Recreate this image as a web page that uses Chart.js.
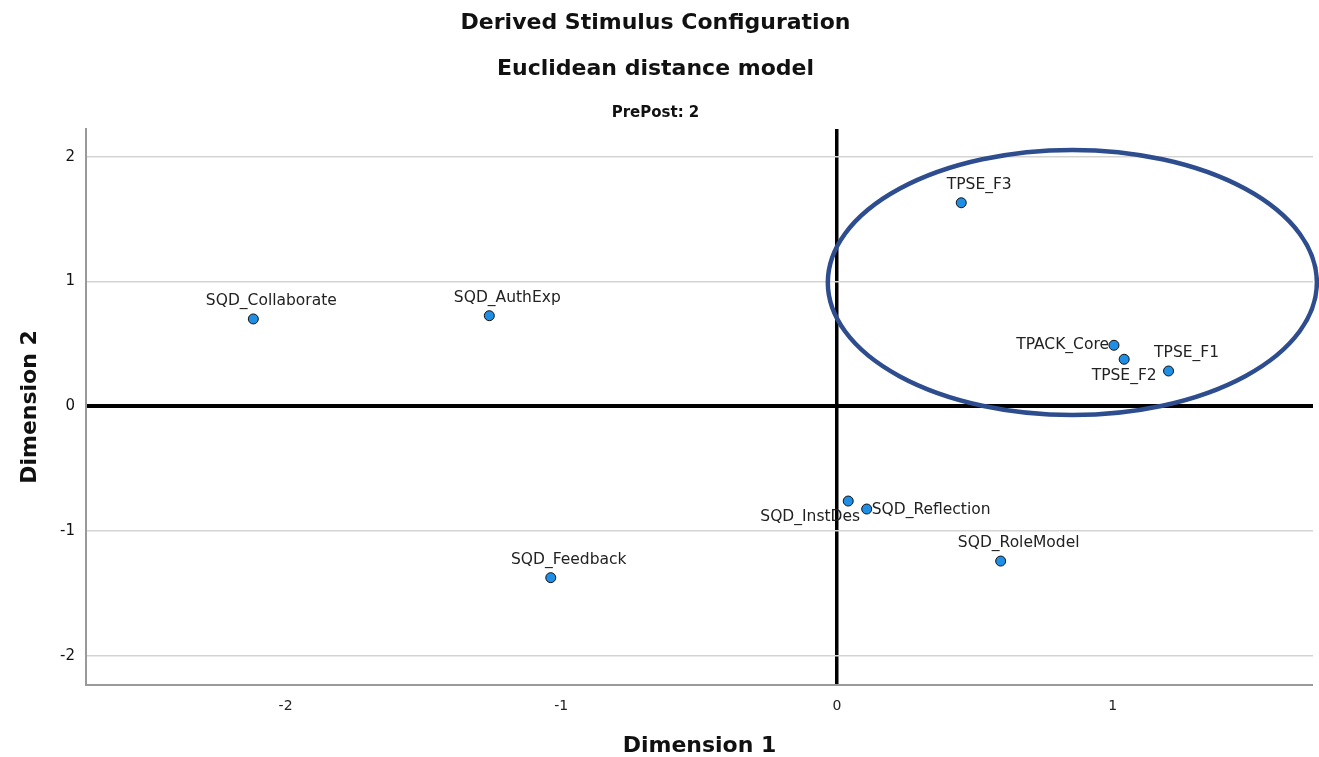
<!DOCTYPE html>
<html>
<head>
<meta charset="utf-8">
<script src="https://cdn.jsdelivr.net/npm/chart.js@4"></script>
<style>
  body { margin: 0; background: #fff; }
  #wrap { width: 1319px; height: 757px; position: relative; }
</style>
</head>
<body>
<div id="wrap"><canvas id="mdsChart"></canvas></div>
<script>
// stimulus coordinates
const stimulusNames = ['SQD_Collaborate', 'SQD_AuthExp', 'SQD_Feedback', 'TPSE_F3', 'TPACK_Core',
    'TPSE_F2', 'TPSE_F1', 'SQD_InstDes', 'SQD_Reflection', 'SQD_RoleModel'];
const dimension1 = [-2.117, -1.261, -1.038, 0.451, 1.005, 1.042, 1.203, 0.041, 0.108, 0.594];
const dimension2 = [0.700, 0.726, -1.373, 1.631, 0.489, 0.377, 0.283, -0.759, -0.823, -1.240];
const xTicks = [-2, -1, 0, 1];
const yTicks = [-2, -1, 0, 1, 2];
// highlighted cluster (centre x, centre y, radius x, radius y) in data units
const clusterEllipse = [0.854, 0.992, 0.887, 1.062];

const titleLines = ['Derived Stimulus Configuration', 'Euclidean distance model', 'PrePost: 2'];

// where each label sits relative to its point
const labelPlace = {
    'TPACK_Core': {dx: -5, dy: 0, align: 'right'},
    'TPSE_F2': {dx: 0, dy: 17, align: 'center'},
    'SQD_InstDes': {dx: -38, dy: 16, align: 'center'},
    'SQD_Reflection': {dx: 5, dy: 1, align: 'left'}
};
const defaultPlace = {dx: 18, dy: -18, align: 'center'};

Chart.defaults.font.family = "'DejaVu Sans', sans-serif";

const points = stimulusNames.map((n, i) => ({x: dimension1[i], y: dimension2[i], name: n}));

const titlesPlugin = {
    id: 'titles',
    afterDraw(chart) {
        const ctx = chart.ctx;
        const cx = chart.width / 2;
        ctx.save();
        ctx.fillStyle = '#111';
        ctx.textAlign = 'center';
        ctx.textBaseline = 'middle';
        ctx.font = "bold 22px 'DejaVu Sans'";
        ctx.fillText(titleLines[0], cx - 4, 23);
        ctx.fillText(titleLines[1], cx - 4, 69);
        ctx.font = "bold 15px 'DejaVu Sans'";
        ctx.fillText(titleLines[2], cx - 4, 113);
        ctx.restore();
    }
};

const labelsPlugin = {
    id: 'pointLabels',
    afterDatasetsDraw(chart) {
        const ctx = chart.ctx;
        const meta = chart.getDatasetMeta(0);
        ctx.save();
        ctx.font = "15.5px 'DejaVu Sans'";
        ctx.fillStyle = '#222';
        ctx.textBaseline = 'middle';
        meta.data.forEach((el, i) => {
            const p = labelPlace[stimulusNames[i]] || defaultPlace;
            ctx.textAlign = p.align;
            ctx.fillText(stimulusNames[i], el.x + p.dx, el.y + p.dy);
        });
        ctx.restore();
    }
};

const ellipsePlugin = {
    id: 'cluster',
    afterDatasetsDraw(chart) {
        const xs = chart.scales.x, ys = chart.scales.y;
        const cx = xs.getPixelForValue(clusterEllipse[0]);
        const cy = ys.getPixelForValue(clusterEllipse[1]);
        const rx = xs.getPixelForValue(clusterEllipse[0] + clusterEllipse[2]) - cx;
        const ry = cy - ys.getPixelForValue(clusterEllipse[1] + clusterEllipse[3]);
        const ctx = chart.ctx;
        ctx.save();
        ctx.strokeStyle = '#2d4d8e';
        ctx.lineWidth = 4.5;
        ctx.beginPath();
        ctx.ellipse(cx, cy, rx, ry, 0, 0, Math.PI * 2);
        ctx.stroke();
        ctx.restore();
    }
};

new Chart(document.getElementById('mdsChart'), {
    type: 'scatter',
    data: {
        datasets: [{
            data: points,
            backgroundColor: '#1f8fe6',
            borderColor: '#111',
            borderWidth: 1,
            pointRadius: 5,
            pointHoverRadius: 5
        }]
    },
    options: {
        responsive: true,
        maintainAspectRatio: false,
        animation: false,
        layout: {padding: {top: 129, right: 6, left: 0, bottom: 0}},
        scales: {
            x: {
                type: 'linear',
                min: -2.724,
                max: 1.727,
                afterFit: s => { s.height = 72; },
                afterBuildTicks: s => { s.ticks = xTicks.map(v => ({value: v})); },
                ticks: {
                    includeBounds: false,
                    padding: 13,
                    color: '#222',
                    font: {size: 14}
                },
                grid: {
                    drawTicks: false,
                    color: c => c.tick && c.tick.value === 0 ? '#000' : 'rgba(0,0,0,0)',
                    lineWidth: c => c.tick && c.tick.value === 0 ? 3.5 : 0
                },
                border: {display: true, color: '#999', width: 2},
                title: {
                    display: true,
                    text: 'Dimension 1',
                    color: '#111',
                    font: {size: 22, weight: 'bold'},
                    padding: {top: 0, bottom: -2}
                }
            },
            y: {
                type: 'linear',
                min: -2.233,
                max: 2.222,
                afterFit: s => { s.width = 86; },
                afterBuildTicks: s => { s.ticks = yTicks.map(v => ({value: v})); },
                ticks: {
                    includeBounds: false,
                    padding: 11,
                    color: '#111',
                    font: {size: 15}
                },
                grid: {
                    drawTicks: false,
                    color: c => c.tick && c.tick.value === 0 ? '#000' : '#d4d4d4',
                    lineWidth: c => c.tick && c.tick.value === 0 ? 4 : 1.5
                },
                border: {display: true, color: '#999', width: 2},
                title: {
                    display: true,
                    text: 'Dimension 2',
                    color: '#111',
                    font: {size: 22, weight: 'bold'},
                    padding: {top: 17, bottom: 0}
                }
            }
        },
        plugins: {
            legend: {display: false},
            tooltip: {enabled: false}
        }
    },
    plugins: [titlesPlugin, labelsPlugin, ellipsePlugin]
});
</script>
</body>
</html>
